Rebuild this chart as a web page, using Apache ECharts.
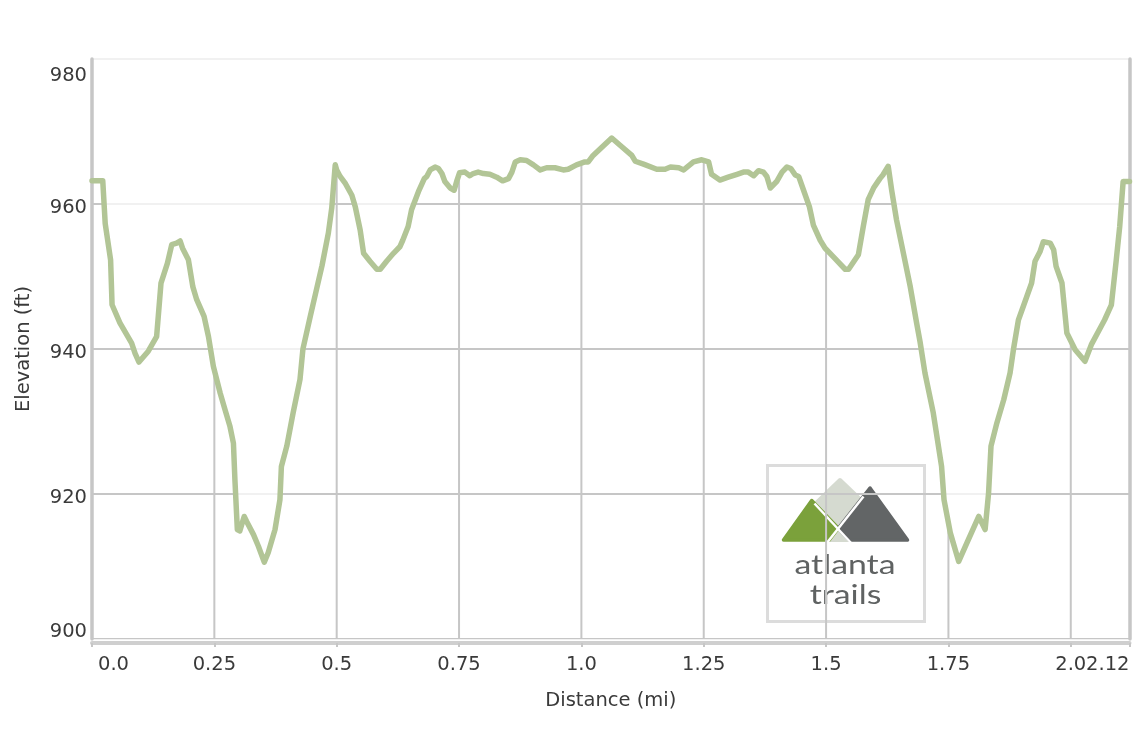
<!DOCTYPE html>
<html>
<head>
<meta charset="utf-8">
<script src="https://cdn.jsdelivr.net/npm/echarts@6/dist/echarts.min.js"></script>
<style>
html,body{margin:0;padding:0;background:#fff;}
#chart{width:1140px;height:732px;}
</style>
</head>
<body>
<div id="chart"></div>
<script>
// Distance along trail (mi)
const distance = [
0.000,0.022,0.027,0.038,0.041,0.057,0.081,0.088,0.096,0.115,0.132,0.141,0.154,0.163,0.173,0.180,0.185,0.197,0.206,0.214,
0.229,0.238,0.248,0.262,0.272,0.282,0.289,0.292,0.297,0.302,0.311,0.316,0.330,0.340,0.352,0.360,0.374,0.384,0.387,0.398,
0.411,0.425,0.431,0.446,0.458,0.470,0.483,0.490,0.497,0.500,0.507,0.518,0.531,0.538,0.548,0.555,0.568,0.582,0.589,0.602,
0.616,0.629,0.635,0.646,0.653,0.667,0.679,0.684,0.691,0.701,0.708,0.715,0.721,0.732,0.740,0.746,0.751,0.762,0.772,0.779,
0.789,0.800,0.813,0.827,0.839,0.851,0.858,0.865,0.875,0.888,0.902,0.916,0.929,0.946,0.963,0.973,0.990,1.007,1.014,1.024,
1.062,1.079,1.103,1.110,1.127,1.154,1.171,1.182,1.199,1.209,1.229,1.246,1.260,1.266,1.283,1.300,1.318,1.331,1.341,1.352,
1.362,1.372,1.379,1.386,1.399,1.410,1.420,1.428,1.437,1.444,1.454,1.466,1.474,1.488,1.498,1.515,1.539,1.546,1.566,1.576,
1.586,1.597,1.610,1.616,1.627,1.634,1.644,1.658,1.672,1.685,1.692,1.702,1.719,1.736,1.741,1.754,1.771,1.788,1.812,1.817,
1.825,1.832,1.837,1.849,1.863,1.876,1.883,1.893,1.910,1.920,1.927,1.937,1.944,1.958,1.965,1.970,1.982,1.992,2.009,2.029,
2.042,2.069,2.083,2.093,2.100,2.107,2.120
];
// Elevation (ft)
const elevation = [
963.2,963.2,957.3,952.3,946.1,943.6,940.8,939.4,938.2,939.7,941.7,949.1,951.8,954.4,954.6,954.9,953.9,952.3,948.6,946.8,
944.5,941.7,937.6,933.9,931.6,929.3,927.0,922.0,915.1,914.9,916.9,916.2,914.4,912.8,910.6,911.9,915.1,919.2,923.8,926.6,
931.2,935.8,940.0,944.5,948.0,951.5,956.0,959.5,965.4,964.7,963.8,962.8,961.2,959.6,956.4,953.2,952.1,951.0,951.0,952.1,
953.2,954.1,955.0,956.9,959.2,961.7,963.5,963.8,964.7,965.1,964.9,964.2,963.1,962.2,961.9,963.3,964.3,964.4,963.9,964.2,
964.4,964.2,964.1,963.7,963.2,963.5,964.4,965.8,966.1,966.0,965.4,964.7,965.0,965.0,964.7,964.8,965.4,965.8,965.8,966.7,
969.1,968.1,966.7,965.9,965.5,964.8,964.8,965.1,965.0,964.7,965.8,966.1,965.8,964.1,963.3,963.7,964.1,964.4,964.4,963.9,
964.6,964.4,963.8,962.2,963.1,964.4,965.1,964.9,964.0,963.8,961.9,959.6,957.1,955.0,953.9,952.7,951.0,951.0,953.0,956.9,
960.6,962.2,963.5,964.0,965.2,961.9,957.8,953.2,948.6,943.6,941.0,936.7,931.2,923.8,919.2,914.6,910.7,913.3,916.9,916.2,
915.1,920.1,926.6,929.8,933.0,936.7,940.0,944.0,947.2,949.1,952.1,953.4,954.8,954.6,953.7,951.4,949.1,942.2,939.9,938.3,
940.6,944.0,946.1,952.3,956.9,963.1,963.1
];
const xTickValues = [0, 0.25, 0.5, 0.75, 1.0, 1.25, 1.5, 1.75, 2.0, 2.12];
const xTickLabels = ['0.0','0.25','0.5','0.75','1.0','1.25','1.5','1.75','2.0','2.12'];
const yTickValues = [900, 920, 940, 960, 980];
const yTickLabels = ['900','920','940','960','980'];
const xTitle = 'Distance (mi)';
const yTitle = 'Elevation (ft)';
const logoWords = ['atlanta', 'trails'];

const FONT = 'DejaVu Sans, Verdana, sans-serif';
const FS = 19.5;
const TXT = '#3a3a3a';

const points = distance.map((d, i) => [d, elevation[i]]);
const xMin = xTickValues[0], xMax = xTickValues[xTickValues.length - 1];
const yMin = yTickValues[0], yMax = yTickValues[yTickValues.length - 1];

function xLabel(v) {
  let best = 0;
  xTickValues.forEach((t, i) => { if (Math.abs(t - v) < Math.abs(xTickValues[best] - v)) best = i; });
  const s = xTickLabels[best];
  if (best === 0) return '{first|' + s + '}';
  return '{n|' + s + '}';
}
function yLabel(v) {
  let best = 0;
  yTickValues.forEach((t, i) => { if (Math.abs(t - v) < Math.abs(yTickValues[best] - v)) best = i; });
  const s = yTickLabels[best];
  if (best === yTickValues.length - 1) return '{top|' + s + '}';
  if (best === 0) return '{bot|' + s + '}';
  return '{mid|' + s + '}';
}
const tokenBase = { fontSize: FS, fontFamily: FONT, color: TXT };

// darker grid lines visible only below the elevation profile
function renderUnderGrid(params, api) {
  if (params.dataIndex !== 0) return null;
  const cs = params.coordSys;
  const poly = points.map(p => api.coord(p));
  poly.push(api.coord([xMax, yMin]));
  poly.push(api.coord([xMin, yMin]));
  const children = [];
  const lineStyle = { stroke: '#c6c6c6', lineWidth: 2 };
  yTickValues.forEach(v => {
    const p = api.coord([xMin, v]);
    children.push({ type: 'line', shape: { x1: cs.x, y1: p[1], x2: cs.x + cs.width, y2: p[1] }, style: lineStyle });
  });
  xTickValues.forEach((v, i) => {
    if (i === 0 || i === xTickValues.length - 1) return;
    const p = api.coord([v, yMin]);
    children.push({ type: 'line', shape: { x1: p[0], y1: cs.y, x2: p[0], y2: cs.y + cs.height }, style: lineStyle });
  });
  return {
    type: 'group',
    children: children,
    clipPath: { type: 'polygon', shape: { points: poly } }
  };
}

const LIGHT = '#d5dad0', GREEN = '#7ba13b', DARK = '#626566';
const chart = echarts.init(document.getElementById('chart'), null, { renderer: 'canvas' });
const option = {
  animation: false,
  backgroundColor: '#ffffff',
  grid: { left: 92, right: 10.5, top: 59, bottom: 93, containLabel: false },
  xAxis: {
    type: 'value', min: xMin, max: xMax, interval: 0.25,
    offset: 4,
    name: xTitle, nameLocation: 'middle', nameGap: 48,
    nameTextStyle: { fontSize: FS, fontFamily: FONT, color: TXT },
    axisLine: { show: true, lineStyle: { color: '#cfcfcf', width: 4 } },
    axisTick: { show: true, length: 4, lineStyle: { color: '#c6c6c6', width: 2 } },
    axisLabel: {
      margin: 12, formatter: xLabel, alignMinLabel: 'left', alignMaxLabel: 'right',
      hideOverlap: false,
      rich: { first: Object.assign({ padding: [0, 0, 0, 6] }, tokenBase), n: tokenBase }
    },
    splitLine: { show: false }
  },
  yAxis: [{
    type: 'value', min: yMin, max: yMax, interval: 20,
    name: yTitle, nameLocation: 'middle', nameGap: 58,
    nameTextStyle: { fontSize: FS, fontFamily: FONT, color: TXT },
    axisLine: { show: true, lineStyle: { color: '#c6c6c6', width: 3.5 } },
    axisTick: { show: false },
    axisLabel: {
      margin: 5, formatter: yLabel,
      rich: {
        top: Object.assign({ padding: [34, 0, 0, 0] }, tokenBase),
        bot: Object.assign({ padding: [0, 0, 15, 0] }, tokenBase),
        mid: Object.assign({ padding: [8, 0, 0, 0] }, tokenBase)
      }
    },
    splitLine: { show: true, lineStyle: { color: '#ececec', width: 1.5 } }
  }, {
    type: 'value', min: yMin, max: yMax, interval: 20, position: 'right',
    axisLine: { show: true, lineStyle: { color: '#c6c6c6', width: 3.5 } },
    axisTick: { show: false }, axisLabel: { show: false }, splitLine: { show: false }
  }],
  series: [{
    type: 'custom', z: 1, silent: true,
    data: [[xMin, yMin]],
    renderItem: renderUnderGrid
  }, {
    type: 'line', z: 3, data: points, showSymbol: false, smooth: false,
    lineStyle: { color: '#b2c596', width: 5.5, join: 'round', cap: 'round' }
  }],
  graphic: [{
    type: 'group', z: 100,
    children: [
      { type: 'rect', shape: { x: 767.5, y: 465.5, width: 157, height: 156 },
        style: { fill: '#ffffff', stroke: '#dcdcdc', lineWidth: 3 } },
      { type: 'polygon', shape: { points: [[840,480],[812,507],[829.3,540],[849.3,540],[864,503]] },
        style: { fill: LIGHT, stroke: LIGHT, lineWidth: 4, lineJoin: 'round' } },
      { type: 'polygon', shape: { points: [[783.5,540],[811.7,500.5],[838.3,528.3],[829.3,540]] },
        style: { fill: GREEN, stroke: GREEN, lineWidth: 3.5, lineJoin: 'round' } },
      { type: 'polygon', shape: { points: [[870,488],[907.5,540],[849.3,540],[838.3,528.3]] },
        style: { fill: DARK, stroke: DARK, lineWidth: 3.5, lineJoin: 'round' } },
      { type: 'line', shape: { x1: 814.5, y1: 503.5, x2: 852, y2: 544 },
        style: { stroke: '#ffffff', lineWidth: 2.5 } },
      { type: 'line', shape: { x1: 863.5, y1: 496.5, x2: 826, y2: 544 },
        style: { stroke: '#ffffff', lineWidth: 2.5 } },
      { type: 'text', x: 845, y: 566, scaleX: 1.3,
        style: { text: logoWords[0], x: 0, y: 0, fill: '#5f6262', font: '400 26px Lato, "Open Sans", sans-serif',
                 textAlign: 'center', textVerticalAlign: 'middle' } },
      { type: 'text', x: 845.5, y: 596, scaleX: 1.3,
        style: { text: logoWords[1], x: 0, y: 0, fill: '#5f6262', font: '400 26px Lato, "Open Sans", sans-serif',
                 textAlign: 'center', textVerticalAlign: 'middle' } }
    ]
  }]
};
chart.setOption(option);
</script>
</body>
</html>
